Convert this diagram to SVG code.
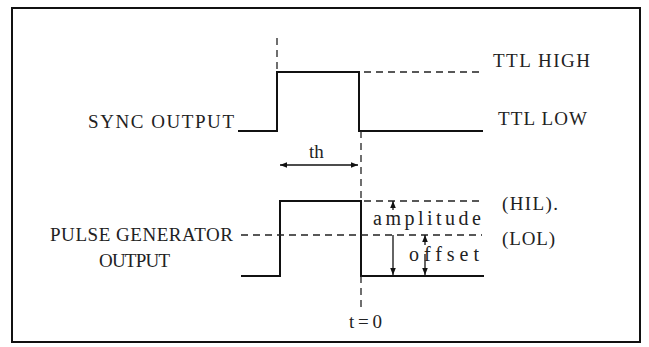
<svg xmlns="http://www.w3.org/2000/svg" width="649" height="347" viewBox="0 0 649 347">
<style>
.t{font-family:"Liberation Serif","Times New Roman",serif;font-size:19px;fill:#222}
.b{font-size:20px}
.s{fill:none;stroke:#111;stroke-width:2}
.d{fill:none;stroke:#222;stroke-width:1.3;stroke-dasharray:7 5}
.a{fill:none;stroke:#111;stroke-width:1.3}
</style>
<defs>
<marker id="ah" viewBox="0 0 10 10" refX="10" refY="5" markerWidth="7" markerHeight="7" orient="auto-start-reverse" markerUnits="userSpaceOnUse">
<path d="M0,1 L10,5 L0,9 Z" fill="#111"/>
</marker>
</defs>
<rect width="649" height="347" fill="#fff"/>
<rect x="12" y="8" width="628" height="334" fill="none" stroke="#111" stroke-width="2"/>
<g id="sync-signal">
<path class="s" d="M238,131 H277 V72 H359 V131 H483"/>
<line class="d" x1="277" y1="38" x2="277" y2="72"/>
<line class="d" x1="364" y1="72" x2="483" y2="72"/>
</g>
<g id="pulse-signal">
<path class="s" d="M241,276 H280 V201 H361 V276 H484"/>
<line class="d" x1="241" y1="235" x2="482" y2="235"/>
<line class="d" x1="364" y1="201" x2="482" y2="201"/>
</g>
<g id="t0-line">
<line class="d" x1="361" y1="131" x2="361" y2="201" stroke-dasharray="6 4"/>
<line class="d" x1="361" y1="276" x2="361" y2="307" stroke-dasharray="6 4"/>
</g>
<g id="connectors">
<line class="a" x1="280" y1="165" x2="358" y2="165" marker-start="url(#ah)" marker-end="url(#ah)"/>
<line class="a" x1="393" y1="210" x2="393" y2="201" marker-end="url(#ah)"/>
<line class="a" x1="393" y1="235" x2="393" y2="275" marker-end="url(#ah)"/>
<line class="a" x1="425" y1="245" x2="425" y2="235" marker-end="url(#ah)"/>
<line class="a" x1="425" y1="254" x2="425" y2="275" marker-end="url(#ah)"/>
</g>
<g id="labels">
<text class="t" x="493" y="67" textLength="97" lengthAdjust="spacing">TTL HIGH</text>
<text class="t" x="498" y="125" textLength="89" lengthAdjust="spacing">TTL LOW</text>
<text class="t" x="88" y="128" textLength="146" lengthAdjust="spacing">SYNC OUTPUT</text>
<text class="t" x="309" y="158" font-size="17">th</text>
<text class="t" x="50" y="241" textLength="183" lengthAdjust="spacing">PULSE GENERATOR</text>
<text class="t" x="99" y="267" textLength="71" lengthAdjust="spacing">OUTPUT</text>
<text class="t b" x="373" y="225" textLength="108" lengthAdjust="spacing">amplitude</text>
<text class="t b" x="409" y="261" textLength="70" lengthAdjust="spacing">offset</text>
<text class="t" x="502" y="210" textLength="56" lengthAdjust="spacing">(HIL).</text>
<text class="t" x="502" y="245" textLength="53" lengthAdjust="spacing">(LOL)</text>
<text class="t" x="349" y="328" textLength="33" lengthAdjust="spacing">t=0</text>
</g>
</svg>
